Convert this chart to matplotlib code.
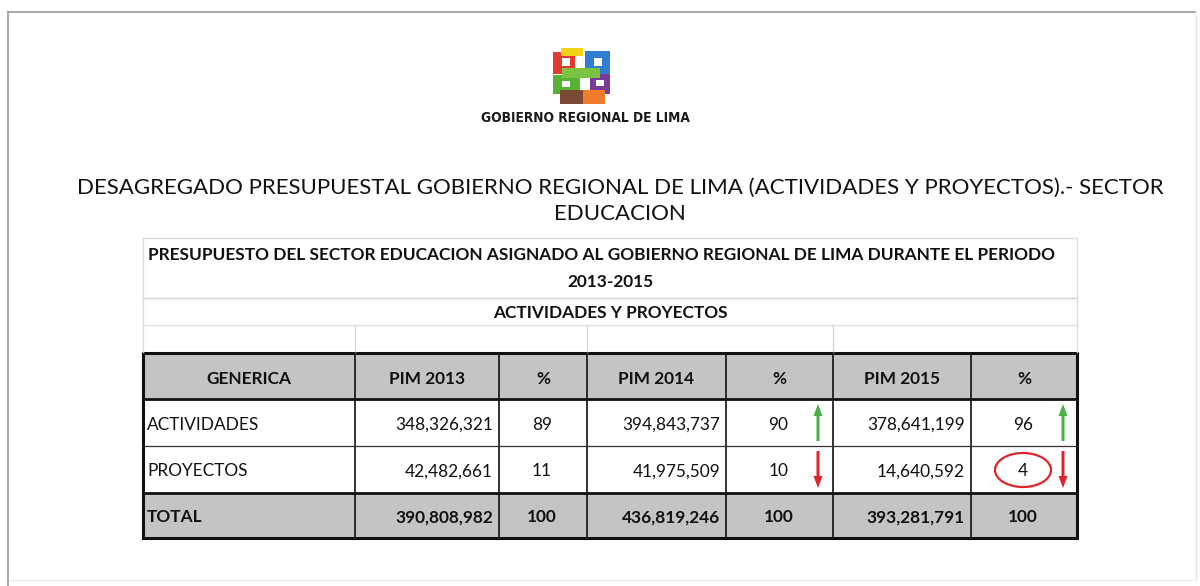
import matplotlib
matplotlib.use("Agg")
import matplotlib.pyplot as plt
from matplotlib.patches import Rectangle, Ellipse, FancyArrow

# ---------------- data ----------------
headers = ["GENERICA", "PIM 2013", "%", "PIM 2014", "%", "PIM 2015", "%"]
genericas = ["ACTIVIDADES", "PROYECTOS", "TOTAL"]
pim_2013 = [348326321, 42482661, 390808982]
pct_2013 = [89, 11, 100]
pim_2014 = [394843737, 41975509, 436819246]
pct_2014 = [90, 10, 100]
pim_2015 = [378641199, 14640592, 393281791]
pct_2015 = [96, 4, 100]

main_title_1 = "DESAGREGADO PRESUPUESTAL GOBIERNO REGIONAL DE LIMA (ACTIVIDADES Y PROYECTOS).- SECTOR"
main_title_2 = "EDUCACION"
sub_title_1 = "PRESUPUESTO DEL SECTOR EDUCACION ASIGNADO AL GOBIERNO REGIONAL DE LIMA DURANTE EL PERIODO"
sub_title_2 = "2013-2015"
sub_title_3 = "ACTIVIDADES Y PROYECTOS"
logo_text = "GOBIERNO REGIONAL DE LIMA"

FONT = ["Lato", "DejaVu Sans"]

# ---------------- figure ----------------
W, H = 1200, 586
fig = plt.figure(figsize=(W / 100, H / 100), dpi=100)
ax = fig.add_axes([0, 0, 1, 1])
ax.set_xlim(0, W)
ax.set_ylim(H, 0)
ax.axis("off")
fig.patch.set_facecolor("white")
renderer = fig.canvas.get_renderer()


def fit_text(x, y, s, width, size0=12, family=FONT, **kw):
    t = ax.text(x, y, s, fontsize=size0, family=family, **kw)
    bb = t.get_window_extent(renderer)
    t.set_fontsize(size0 * width / bb.width)
    return t


# outer frame
ax.plot([8, 1195], [12, 12], color="#9a9a9a", lw=1.2)
ax.plot([8, 8], [12, 586], color="#9a9a9a", lw=1.2)
ax.plot([1196, 1196], [14, 580], color="#e4e4e4", lw=1)
ax.plot([10, 1196], [580, 580], color="#eeeeee", lw=1)

# ---------------- logo ----------------
logo_parts = [
    (553, 52, 22, 22, "#e53a2f"),   # red
    (561, 48, 22, 8, "#f2d21b"),    # yellow
    (585, 51, 25, 24, "#2f7fd0"),   # blue
    (590, 74, 20, 20, "#7a3b9a"),   # purple
    (553, 75, 27, 19, "#57b234"),   # green
    (562, 68, 38, 10, "#7cc243"),   # light green centre
    (560, 90, 25, 14, "#7a4a35"),   # brown
    (583, 90, 22, 14, "#ee7d2e"),   # orange
]
for (x0, y0, w0, h0, c) in logo_parts:
    ax.add_patch(Rectangle((x0, y0), w0, h0, facecolor=c, edgecolor="none"))
for (x0, y0, w0, h0) in [(562, 58, 8, 8), (594, 58, 8, 8), (562, 81, 8, 6), (596, 80, 8, 6)]:
    ax.add_patch(Rectangle((x0, y0), w0, h0, facecolor="white", edgecolor="none"))
fit_text(585.5, 118, logo_text, 209, size0=12, family=["DejaVu Sans"],
         fontstretch="condensed", ha="center", va="center",
         fontweight="bold", color="#1a1a1a")

# ---------------- titles ----------------
t1 = fit_text(620, 188, main_title_1, 1083, size0=18, ha="center", va="center", color="#111111")
ax.text(620, 214, main_title_2, fontsize=t1.get_fontsize(),
        family=FONT, ha="center", va="center", color="#111111")

# title box
TL, TR = 143, 1077
ax.plot([TL, TR], [238, 238], color="#dddddd", lw=1)
ax.plot([TL, TL], [238, 352], color="#dddddd", lw=1)
ax.plot([TR, TR], [238, 352], color="#dddddd", lw=1)
ax.plot([TL, TR], [298, 298], color="#d0d0d0", lw=1)
ax.plot([TL, TR], [325, 325], color="#e0e0e0", lw=1)

s1 = fit_text(601, 255, sub_title_1, 907, size0=11, ha="center", va="center",
              fontweight="bold", color="#111111")
ax.text(610, 282, sub_title_2, fontsize=s1.get_fontsize(), family=FONT,
        ha="center", va="center", fontweight="bold", color="#111111")
ax.text(610, 313, sub_title_3, fontsize=s1.get_fontsize(), family=FONT,
        ha="center", va="center", fontweight="bold", color="#111111")

# ---------------- table ----------------
col_x = [143, 355, 499, 587, 726, 833, 971, 1077]
row_y = [353, 399, 446, 493, 538]
GRAY = "#c4c4c4"

for cx in [355, 587, 833]:
    ax.plot([cx, cx], [325, 353], color="#d8d8d8", lw=1)

ax.add_patch(Rectangle((col_x[0], row_y[0]), col_x[-1] - col_x[0], row_y[1] - row_y[0],
                       facecolor=GRAY, edgecolor="none"))
ax.add_patch(Rectangle((col_x[0], row_y[3]), col_x[-1] - col_x[0], row_y[4] - row_y[3],
                       facecolor=GRAY, edgecolor="none"))

for cx in col_x[1:-1]:
    ax.plot([cx, cx], [row_y[0], row_y[-1]], color="#111111", lw=1.2)
ax.plot([col_x[0], col_x[-1]], [row_y[2], row_y[2]], color="#333333", lw=0.9)
for ry in [row_y[1], row_y[3]]:
    ax.plot([col_x[0], col_x[-1]], [ry, ry], color="#111111", lw=2)
ax.add_patch(Rectangle((col_x[0], row_y[0]), col_x[-1] - col_x[0], row_y[-1] - row_y[0],
                       facecolor="none", edgecolor="#111111", lw=2.2))

FS = 12.4
for i, h in enumerate(headers):
    xc = (col_x[i] + col_x[i + 1]) / 2
    ax.text(xc, (row_y[0] + row_y[1]) / 2 + 3, h, fontsize=FS, family=FONT,
            fontweight="bold", ha="center", va="center", color="#111111")

pims = [pim_2013, pim_2014, pim_2015]
pcts = [pct_2013, pct_2014, pct_2015]
for r in range(3):
    yc = (row_y[r + 1] + row_y[r + 2]) / 2 + 2
    bold = "bold" if r == 2 else "normal"
    ax.text(col_x[0] + 4, yc, genericas[r], fontsize=FS, family=FONT, fontweight=bold,
            ha="left", va="center", color="#111111")
    for k in range(3):
        ci = 1 + 2 * k
        ax.text(col_x[ci + 1] - 6, yc, f"{pims[k][r]:,}", fontsize=FS, family=FONT,
                fontweight=bold, ha="right", va="center", color="#111111")
        ax.text((col_x[ci + 1] + col_x[ci + 2]) / 2 - 1, yc, f"{pcts[k][r]}",
                fontsize=FS, family=FONT, fontweight=bold, ha="center", va="center",
                color="#111111")

arrow_x = [818, 1063]
for k in (1, 2):
    ax_x = arrow_x[k - 1]
    for r in range(2):
        top = row_y[r + 1] + 5
        bot = row_y[r + 2] - 5
        if pcts[k][r] > pcts[k - 1][r]:
            ax.add_patch(FancyArrow(ax_x, bot, 0, -(bot - top), width=3, head_width=9,
                                    head_length=12, length_includes_head=True,
                                    color="#4cb04a", lw=0))
        else:
            ax.add_patch(FancyArrow(ax_x, top, 0, (bot - top), width=3, head_width=9,
                                    head_length=12, length_includes_head=True,
                                    color="#e0242b", lw=0))

ax.add_patch(Ellipse((1023, 470), 56, 34, facecolor="none", edgecolor="#e0242b", lw=1.6))

fig.savefig("out.png", dpi=100, facecolor="white")
